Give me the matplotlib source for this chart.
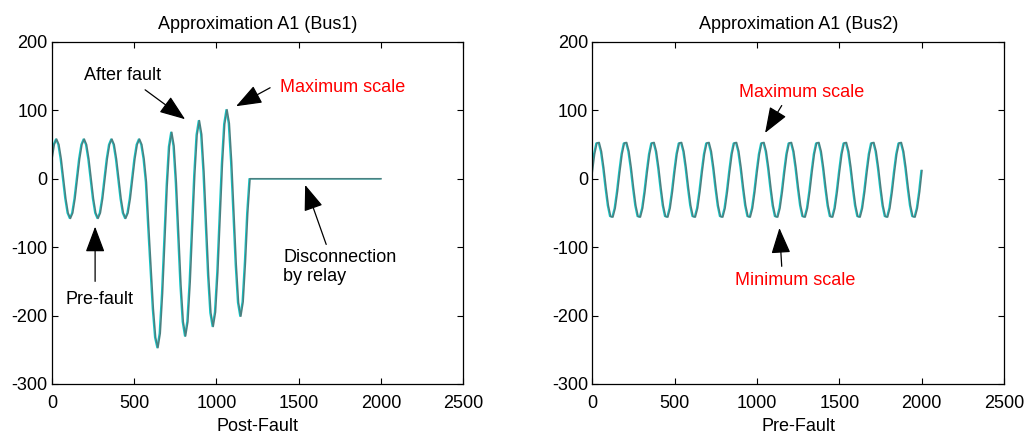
import numpy as np
import matplotlib
matplotlib.use("Agg")
import matplotlib.pyplot as plt
import matplotlib.transforms as mtransforms

plt.rcParams['font.family'] = ['Liberation Sans', 'DejaVu Sans']
plt.rcParams['axes.unicode_minus'] = False

# approximation A1 samples
bus1_step = 14
bus1_values = [
    29, 50, 58, 50, 29, 0, -29, -50, -58, -50, -29, 0,
    29, 50, 58, 50, 29, 0, -29, -50, -58, -50, -29, 0,
    29, 50, 58, 50, 29, 0, -29, -50, -58, -50, -29, 0,
    29, 50, 58, 50, 29, -5, -70, -130, -190, -232, -247,
    -226, -168, -90, -11, 47, 68,
    48, -6, -81, -155, -209, -230,
    -209, -151, -72, 6, 64, 85,
    65, 10, -65, -141, -196, -216,
    -195, -137, -57, 22, 80, 101,
    81, 25, -50, -125, -181, -201,
    -180, -122, -50, 0,
]
bus1_record_end = 2000

bus2_step = 13.9
bus2_values = [
    10, 36, 52, 53, 40, 16, -13, -39, -55, -56, -43, -19,
    10, 36, 52, 53, 40, 16, -13, -39, -55, -56, -43, -19,
    10, 36, 52, 53, 40, 16, -13, -39, -55, -56, -43, -19,
    10, 36, 52, 53, 40, 16, -13, -39, -55, -56, -43, -19,
    10, 36, 52, 53, 40, 16, -13, -39, -55, -56, -43, -19,
    10, 36, 52, 53, 40, 16, -13, -39, -55, -56, -43, -19,
    10, 36, 52, 53, 40, 16, -13, -39, -55, -56, -43, -19,
    10, 36, 52, 53, 40, 16, -13, -39, -55, -56, -43, -19,
    10, 36, 52, 53, 40, 16, -13, -39, -55, -56, -43, -19,
    10, 36, 52, 53, 40, 16, -13, -39, -55, -56, -43, -19,
    10, 36, 52, 53, 40, 16, -13, -39, -55, -56, -43, -19,
    10, 36, 52, 53, 40, 16, -13, -39, -55, -56, -43, -19,
    12,
]

titles = ["Approximation A1 (Bus1)", "Approximation A1 (Bus2)"]
xlabels = ["Post-Fault", "Pre-Fault"]
xticks = [0, 500, 1000, 1500, 2000, 2500]
yticks = [-300, -200, -100, 0, 100, 200]

t1 = np.append(np.arange(len(bus1_values)) * bus1_step, bus1_record_end)
v1 = np.append(bus1_values, bus1_values[-1])
t2 = np.arange(len(bus2_values)) * bus2_step
v2 = np.array(bus2_values)

fig = plt.figure(figsize=(10.28, 4.38), dpi=100)
ax1 = fig.add_axes([0.0506, 0.1233, 0.4, 0.781])
ax2 = fig.add_axes([0.5762, 0.1233, 0.4005, 0.781])

arrow = dict(arrowstyle='-|>,head_length=0.8,head_width=0.3', color='black',
             lw=0.9, mutation_scale=20, shrinkA=0, shrinkB=0)

for ax, (t, v), title, xlabel in zip([ax1, ax2], [(t1, v1), (t2, v2)], titles, xlabels):
    # cyan copy nudged one pixel left, dark trace on top
    nudge = ax.transData + mtransforms.ScaledTranslation(-1.0 / 100, 0, fig.dpi_scale_trans)
    ax.plot(t, v, color='#10c8c8', lw=1.0, transform=nudge)
    ax.plot(t, v, color='#4a8080', lw=1.15)
    ax.set_xlim(0, 2500)
    ax.set_ylim(-300, 200)
    ax.set_xticks(xticks)
    ax.set_yticks(yticks)
    ax.tick_params(direction='in', top=True, right=True, labelsize=13, length=4)
    ax.tick_params(axis='x', pad=8)
    ax.tick_params(axis='y', pad=3)
    ax.set_title(title, fontsize=13, pad=9)
    ax.set_xlabel(xlabel, fontsize=13, labelpad=4)
    for s in ax.spines.values():
        s.set_linewidth(0.9)

# Bus1 notes
ax1.text(429, 151, "After fault", fontsize=13, ha='center', va='center')
ax1.annotate('', xy=(809, 87), xytext=(566, 130), arrowprops=arrow)
ax1.text(1767, 134, "Maximum scale", fontsize=13, color='red', ha='center', va='center')
ax1.annotate('', xy=(1119, 106), xytext=(1326, 133), arrowprops=arrow)
ax1.text(288, -177, "Pre-fault", fontsize=13, ha='center', va='center')
ax1.annotate('', xy=(262, -70), xytext=(262, -150), arrowprops=arrow)
ax1.text(1407, -129, "Disconnection\nby relay", fontsize=13, ha='left', va='center',
         linespacing=1.2)
ax1.annotate('', xy=(1539, -9), xytext=(1667, -96), arrowprops=arrow)

# Bus2 notes
ax2.text(1271, 126, "Maximum scale", fontsize=13, color='red', ha='center', va='center')
ax2.annotate('', xy=(1049, 67), xytext=(1150, 107), arrowprops=arrow)
ax2.text(1231, -148, "Minimum scale", fontsize=13, color='red', ha='center', va='center')
ax2.annotate('', xy=(1136, -72), xytext=(1150, -128), arrowprops=arrow)

fig.savefig("out.png", dpi=100)
